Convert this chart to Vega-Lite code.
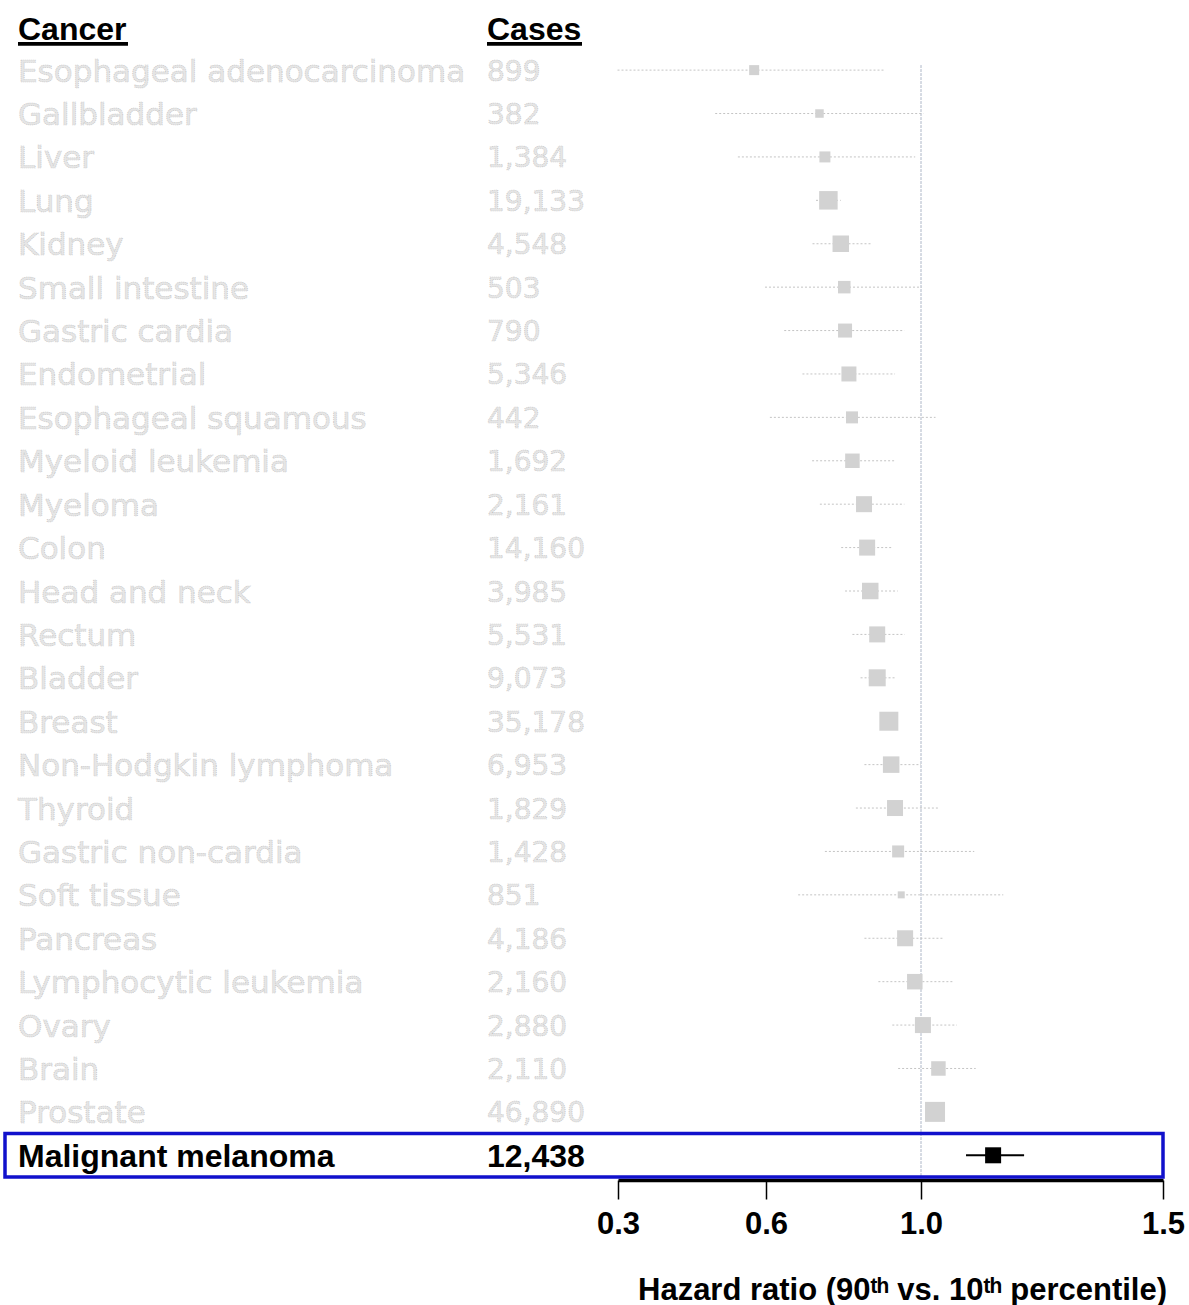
{
  "$schema": "https://vega.github.io/schema/vega-lite/v6.json",
  "width": 1158,
  "height": 1172,
  "autosize": "none",
  "padding": {"left": 5, "top": 5, "right": 26, "bottom": 128},
  "background": "white",
  "config": {"view": {"stroke": null}, "font": "Liberation Sans"},
  "datasets": {
    "rows": [
      {"cancer": "Esophageal adenocarcinoma", "cases": 899, "hr": 0.576, "lo": 0.299, "hi": 0.907, "w": 10, "hl": false},
      {"cancer": "Gallbladder", "cases": 382, "hr": 0.738, "lo": 0.497, "hi": 1.005, "w": 8.5, "hl": false},
      {"cancer": "Liver", "cases": 1384, "hr": 0.752, "lo": 0.543, "hi": 0.985, "w": 11, "hl": false},
      {"cancer": "Lung", "cases": 19133, "hr": 0.761, "lo": 0.729, "hi": 0.793, "w": 18.5, "hl": false},
      {"cancer": "Kidney", "cases": 4548, "hr": 0.793, "lo": 0.72, "hi": 0.873, "w": 16.5, "hl": false},
      {"cancer": "Small intestine", "cases": 503, "hr": 0.802, "lo": 0.598, "hi": 1.001, "w": 12.5, "hl": false},
      {"cancer": "Gastric cardia", "cases": 790, "hr": 0.804, "lo": 0.647, "hi": 0.957, "w": 14, "hl": false},
      {"cancer": "Endometrial", "cases": 5346, "hr": 0.814, "lo": 0.694, "hi": 0.933, "w": 15, "hl": false},
      {"cancer": "Esophageal squamous", "cases": 442, "hr": 0.822, "lo": 0.61, "hi": 1.03, "w": 12, "hl": false},
      {"cancer": "Myeloid leukemia", "cases": 1692, "hr": 0.823, "lo": 0.719, "hi": 0.933, "w": 14.5, "hl": false},
      {"cancer": "Myeloma", "cases": 2161, "hr": 0.853, "lo": 0.739, "hi": 0.957, "w": 16, "hl": false},
      {"cancer": "Colon", "cases": 14160, "hr": 0.861, "lo": 0.794, "hi": 0.925, "w": 16, "hl": false},
      {"cancer": "Head and neck", "cases": 3985, "hr": 0.869, "lo": 0.804, "hi": 0.94, "w": 16.5, "hl": false},
      {"cancer": "Rectum", "cases": 5531, "hr": 0.887, "lo": 0.823, "hi": 0.958, "w": 16, "hl": false},
      {"cancer": "Bladder", "cases": 9073, "hr": 0.887, "lo": 0.844, "hi": 0.933, "w": 17, "hl": false},
      {"cancer": "Breast", "cases": 35178, "hr": 0.917, "lo": 0.895, "hi": 0.935, "w": 19, "hl": false},
      {"cancer": "Non-Hodgkin lymphoma", "cases": 6953, "hr": 0.923, "lo": 0.854, "hi": 1.0, "w": 16.5, "hl": false},
      {"cancer": "Thyroid", "cases": 1829, "hr": 0.933, "lo": 0.832, "hi": 1.037, "w": 16, "hl": false},
      {"cancer": "Gastric non-cardia", "cases": 1428, "hr": 0.941, "lo": 0.752, "hi": 1.11, "w": 12, "hl": false},
      {"cancer": "Soft tissue", "cases": 851, "hr": 0.949, "lo": 0.683, "hi": 1.17, "w": 7, "hl": false},
      {"cancer": "Pancreas", "cases": 4186, "hr": 0.959, "lo": 0.854, "hi": 1.047, "w": 16, "hl": false},
      {"cancer": "Lymphocytic leukemia", "cases": 2160, "hr": 0.984, "lo": 0.89, "hi": 1.066, "w": 15.5, "hl": false},
      {"cancer": "Ovary", "cases": 2880, "hr": 1.004, "lo": 0.926, "hi": 1.074, "w": 16, "hl": false},
      {"cancer": "Brain", "cases": 2110, "hr": 1.036, "lo": 0.941, "hi": 1.113, "w": 14.5, "hl": false},
      {"cancer": "Prostate", "cases": 46890, "hr": 1.029, "lo": 1.01, "hi": 1.05, "w": 20, "hl": false},
      {"cancer": "Malignant melanoma", "cases": 12438, "hr": 1.149, "lo": 1.093, "hi": 1.213, "w": 16, "hl": true}
    ],
    "headers": [
      {"label": "Cancer", "col": "Cancer"},
      {"label": "Cases", "col": "Cases"}
    ]
  },
  "data": {"name": "rows"},
  "encoding": {
    "y": {
      "field": "cancer",
      "type": "nominal",
      "scale": {
        "type": "band",
        "paddingInner": 0,
        "paddingOuter": 0,
        "domain": ["hdr", "Esophageal adenocarcinoma", "Gallbladder", "Liver", "Lung", "Kidney", "Small intestine", "Gastric cardia", "Endometrial", "Esophageal squamous", "Myeloid leukemia", "Myeloma", "Colon", "Head and neck", "Rectum", "Bladder", "Breast", "Non-Hodgkin lymphoma", "Thyroid", "Gastric non-cardia", "Soft tissue", "Pancreas", "Lymphocytic leukemia", "Ovary", "Brain", "Prostate", "Malignant melanoma"]
      },
      "axis": null
    }
  },
  "layer": [
    {
      "layer": [
        {
          "data": {"name": "headers"},
          "mark": {"type": "text", "align": "left", "baseline": "middle", "dy": 3, "fontSize": 32, "fontWeight": "bold", "font": "Liberation Sans", "color": "black"},
          "encoding": {
            "x": {"field": "col", "type": "nominal", "scale": {"type": "point", "domain": ["Cancer", "Cases"], "range": [13, 482], "padding": 0}, "axis": null},
            "y": {"datum": "hdr"},
            "text": {"field": "label"}
          }
        },
        {
          "data": {"name": "headers"},
          "mark": {"type": "rule", "strokeWidth": 3.5, "color": "black", "yOffset": 17, "x2Offset": 110},
          "encoding": {
            "x": {"datum": "Cancer"},
            "x2": {"datum": "Cancer"},
            "y": {"datum": "hdr"}
          }
        },
        {
          "data": {"name": "headers"},
          "mark": {"type": "rule", "strokeWidth": 3.5, "color": "black", "yOffset": 17, "x2Offset": 95},
          "encoding": {
            "x": {"datum": "Cases"},
            "x2": {"datum": "Cases"},
            "y": {"datum": "hdr"}
          }
        },
        {
          "transform": [{"filter": "!datum.hl"}],
          "mark": {"type": "text", "align": "left", "baseline": "middle", "dy": 2.5, "fontSize": 31, "font": "DejaVu Sans", "fill": "#e6e6e6", "stroke": "#c2c2c2", "strokeWidth": 0.7, "strokeDash": [1, 1]},
          "encoding": {
            "x": {"datum": "Cancer"},
            "text": {"field": "cancer"}
          }
        },
        {
          "transform": [{"filter": "!datum.hl"}],
          "mark": {"type": "text", "align": "left", "baseline": "middle", "dy": 2.5, "fontSize": 28, "font": "DejaVu Sans", "fill": "#e6e6e6", "stroke": "#c2c2c2", "strokeWidth": 0.7, "strokeDash": [1, 1]},
          "encoding": {
            "x": {"datum": "Cases"},
            "text": {"field": "cases", "type": "quantitative", "format": ","}
          }
        },
        {
          "transform": [{"filter": "datum.hl"}],
          "mark": {"type": "text", "align": "left", "baseline": "middle", "dy": 2, "fontSize": 32, "fontWeight": "bold", "font": "Liberation Sans", "color": "black"},
          "encoding": {
            "x": {"datum": "Cancer"},
            "text": {"field": "cancer"}
          }
        },
        {
          "transform": [{"filter": "datum.hl"}],
          "mark": {"type": "text", "align": "left", "baseline": "middle", "dy": 2, "fontSize": 32, "fontWeight": "bold", "font": "Liberation Sans", "color": "black"},
          "encoding": {
            "x": {"datum": "Cases"},
            "text": {"field": "cases", "type": "quantitative", "format": ","}
          }
        }
      ]
    },
    {
      "layer": [
        {
          "mark": {"type": "rule", "color": "#d6dae2", "strokeWidth": 1, "strokeDash": [2, 2]},
          "encoding": {
            "x": {"datum": 1.0},
            "y": {"datum": "Esophageal adenocarcinoma", "bandPosition": 0.4},
            "y2": {"datum": "Malignant melanoma", "bandPosition": 1}
          }
        },
        {
          "transform": [{"filter": "datum.hl"}],
          "mark": {"type": "rect", "fill": "transparent", "stroke": "#1111cc", "strokeWidth": 3.5},
          "encoding": {}
        },
        {
          "transform": [{"filter": "!datum.hl"}],
          "mark": {"type": "rule", "color": "#c4c4c4", "strokeWidth": 1, "strokeDash": [2, 2]},
          "encoding": {
            "x": {"field": "lo", "type": "quantitative"},
            "x2": {"field": "hi"}
          }
        },
        {
          "transform": [{"filter": "!datum.hl"}],
          "mark": {"type": "square", "filled": true, "color": "#d2d2d2", "opacity": 1},
          "encoding": {
            "x": {"field": "hr", "type": "quantitative"},
            "size": {"field": "w", "type": "quantitative", "scale": {"type": "pow", "exponent": 2, "domain": [0, 20], "range": [0, 400]}, "legend": null}
          }
        },
        {
          "transform": [{"filter": "datum.hl"}],
          "mark": {"type": "rule", "color": "black", "strokeWidth": 2},
          "encoding": {
            "x": {"field": "lo", "type": "quantitative"},
            "x2": {"field": "hi"}
          }
        },
        {
          "transform": [{"filter": "datum.hl"}],
          "mark": {"type": "square", "filled": true, "color": "black", "opacity": 1},
          "encoding": {
            "x": {"field": "hr", "type": "quantitative"},
            "size": {"field": "w", "type": "quantitative", "scale": {"type": "pow", "exponent": 2, "domain": [0, 20], "range": [0, 400]}, "legend": null}
          }
        }
      ],
      "encoding": {
        "x": {
          "type": "quantitative",
          "scale": {"type": "linear", "domain": [0.3, 0.6, 1.0, 1.5], "range": [613, 761, 916, 1158], "zero": false, "nice": false},
          "axis": {
            "orient": "bottom",
            "values": [0.3, 0.6, 1.0, 1.5],
            "format": ".1f",
            "offset": 3,
            "grid": false,
            "domainColor": "black",
            "domainWidth": 3.5,
            "tickColor": "black",
            "tickWidth": 1.5,
            "tickSize": 19,
            "labelFont": "Liberation Sans",
            "labelFontSize": 31,
            "labelFontWeight": "bold",
            "labelColor": "black",
            "labelPadding": 10,
            "labelFlush": false,
            "labelOverlap": false,
            "title": "Hazard ratio (90ᵗʰ vs. 10ᵗʰ percentile)",
            "titleFont": "Liberation Sans",
            "titleFontSize": 31,
            "titleFontWeight": "bold",
            "titleColor": "black",
            "titlePadding": 36,
            "titleX": 897
          }
        }
      }
    }
  ],
  "resolve": {"scale": {"x": "independent"}}
}
